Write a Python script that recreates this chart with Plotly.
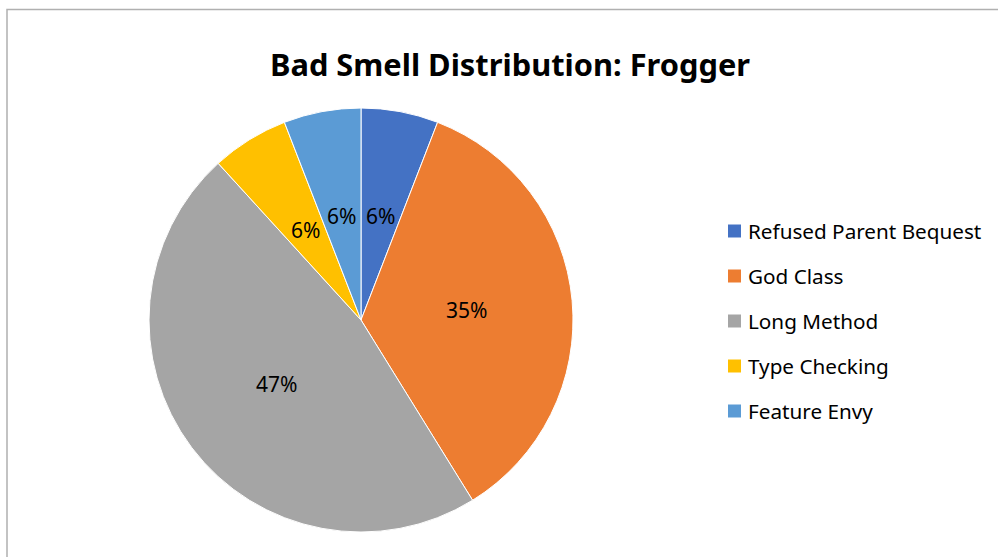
import math
import plotly.graph_objects as go

# Bad smell counts detected in Frogger
smells = ["Refused Parent Bequest", "God Class", "Long Method", "Type Checking", "Feature Envy"]
counts = [1, 6, 8, 1, 1]
colors = ["#4472C4", "#ED7D31", "#A5A5A5", "#FFC000", "#5B9BD5"]

W, H = 998, 557
FONT = "Noto Sans"

# Pie placement in pixels (centre and radius)
CX, CY, R = 361, 320, 212

fig = go.Figure()

fig.add_trace(go.Pie(
    labels=smells,
    values=counts,
    sort=False,
    direction="clockwise",
    rotation=0,
    marker=dict(colors=colors, line=dict(color="white", width=1)),
    textinfo="none",
    domain=dict(x=[(CX - R) / W, (CX + R) / W], y=[1 - (CY + R) / H, 1 - (CY - R) / H]),
    showlegend=False,
    hoverinfo="label+value+percent",
))

annotations = []

# Percentage labels placed half-way out along each slice's mid-angle
total = sum(counts)
cum = 0
for v in counts:
    mid = (cum + v / 2) / total * 2 * math.pi
    cum += v
    px = CX + 0.5 * R * math.sin(mid)
    py = CY - 0.5 * R * math.cos(mid)
    annotations.append(dict(
        x=px / W, y=1 - py / H, xref="paper", yref="paper",
        text=f"{round(100 * v / total)}%", showarrow=False,
        xanchor="center", yanchor="middle",
        font=dict(family=FONT, size=21, color="black"),
    ))

# Legend: colour swatch and label per smell
shapes = []
LX, LY0, STEP, SW = 728, 231, 45, 13
for i, (name, col) in enumerate(zip(smells, colors)):
    yc = LY0 + i * STEP
    shapes.append(dict(
        type="rect", xref="paper", yref="paper",
        x0=LX / W, x1=(LX + SW) / W,
        y0=1 - (yc + SW / 2) / H, y1=1 - (yc - SW / 2) / H,
        fillcolor=col, line=dict(width=0),
    ))
    annotations.append(dict(
        x=(LX + SW + 5) / W, y=1 - yc / H, xref="paper", yref="paper",
        text=name, showarrow=False, xanchor="left", yanchor="middle",
        font=dict(family=FONT, size=20.7, color="black"),
    ))

# Chart-area border
shapes.append(dict(
    type="rect", xref="paper", yref="paper",
    x0=7 / W, x1=1.02, y0=-0.05, y1=1 - 9.5 / H,
    line=dict(color="#B0B0B0", width=1.5),
))

fig.update_layout(
    width=W, height=H,
    margin=dict(l=0, r=0, t=0, b=0),
    paper_bgcolor="white",
    plot_bgcolor="white",
    title=dict(
        text="<b>Bad Smell Distribution: Frogger</b>",
        font=dict(family=FONT, size=30.8, color="black"),
        x=510 / W, xanchor="center", y=1 - 65 / H, yanchor="middle",
    ),
    annotations=annotations,
    shapes=shapes,
)

fig.write_html("out.html")
